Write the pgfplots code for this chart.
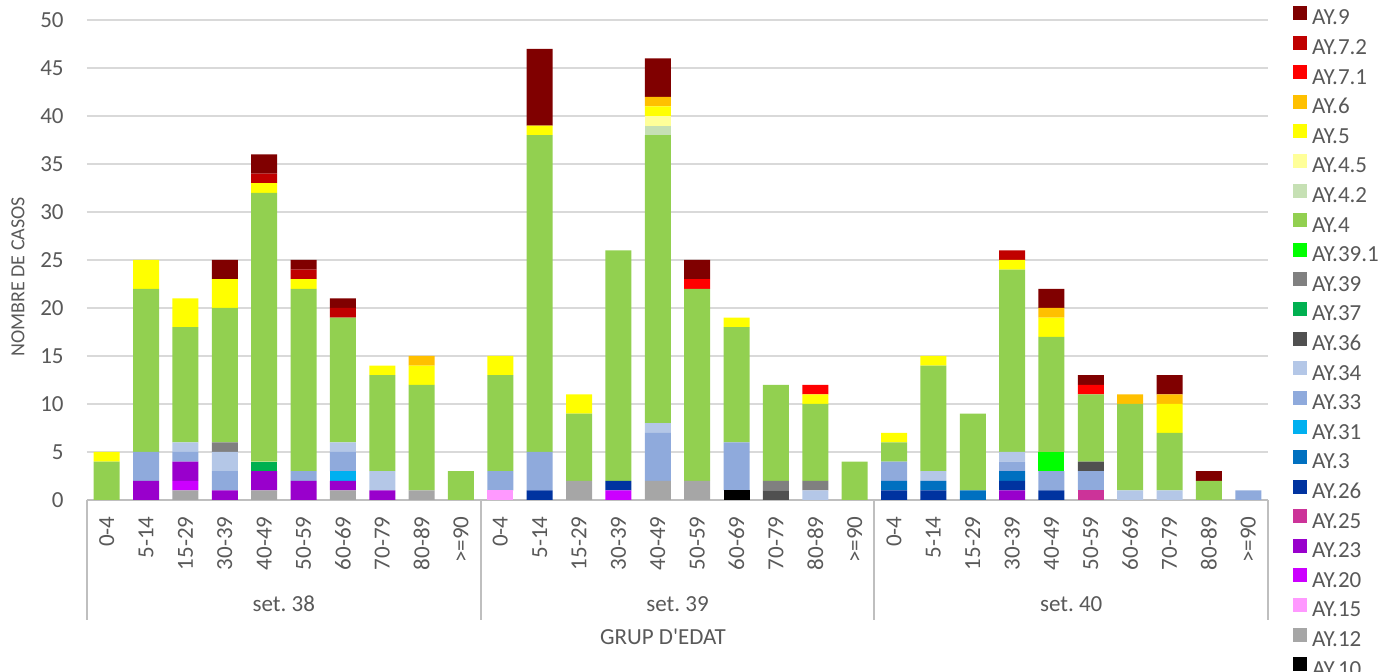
\documentclass[border=0pt]{standalone}
\usepackage{fontspec}
\setmainfont{Carlito}
\usepackage{pgfplots}
\usepackage{pgfplotstable}
\pgfplotsset{compat=1.18}

\definecolor{txt}{HTML}{595959}
\definecolor{axgray}{HTML}{BFBFBF}
\definecolor{gridgray}{HTML}{D9D9D9}
\definecolor{c10}{HTML}{000000}
\definecolor{c12}{HTML}{A6A6A6}
\definecolor{c15}{HTML}{FF99FF}
\definecolor{c20}{HTML}{CC00FF}
\definecolor{c23}{HTML}{9900CC}
\definecolor{c25}{HTML}{CC3399}
\definecolor{c26}{HTML}{0033A0}
\definecolor{c3}{HTML}{0070C0}
\definecolor{c31}{HTML}{00B0F0}
\definecolor{c33}{HTML}{8FAADC}
\definecolor{c34}{HTML}{B4C7E7}
\definecolor{c36}{HTML}{505050}
\definecolor{c37}{HTML}{00B050}
\definecolor{c39}{HTML}{808080}
\definecolor{c391}{HTML}{00FF00}
\definecolor{c4}{HTML}{92D050}
\definecolor{c42}{HTML}{C6E0B4}
\definecolor{c45}{HTML}{FFFF99}
\definecolor{c5}{HTML}{FFFF00}
\definecolor{c6}{HTML}{FFC000}
\definecolor{c71}{HTML}{FF0000}
\definecolor{c72}{HTML}{C00000}
\definecolor{c9}{HTML}{800000}

% cases per lineage; rows 0-9 set. 38, 10-19 set. 39, 20-29 set. 40
\pgfplotstableread{
x  a10 a12 a15 a20 a23 a25 a26 a3 a31 a33 a34 a36 a37 a39 a391 a4 a42 a45 a5 a6 a71 a72 a9
0  0 0 0 0 0 0 0 0 0 0 0 0 0 0 0 4  0 0 1 0 0 0 0
1  0 0 0 0 2 0 0 0 0 3 0 0 0 0 0 17 0 0 3 0 0 0 0
2  0 1 0 1 2 0 0 0 0 1 1 0 0 0 0 12 0 0 3 0 0 0 0
3  0 0 0 0 1 0 0 0 0 2 2 0 0 1 0 14 0 0 3 0 0 0 2
4  0 1 0 0 2 0 0 0 0 0 0 0 1 0 0 28 0 0 1 0 0 1 2
5  0 0 0 0 2 0 0 0 0 1 0 0 0 0 0 19 0 0 1 0 0 1 1
6  0 1 0 0 1 0 0 0 1 2 1 0 0 0 0 13 0 0 0 0 0 1 1
7  0 0 0 0 1 0 0 0 0 0 2 0 0 0 0 10 0 0 1 0 0 0 0
8  0 1 0 0 0 0 0 0 0 0 0 0 0 0 0 11 0 0 2 1 0 0 0
9  0 0 0 0 0 0 0 0 0 0 0 0 0 0 0 3  0 0 0 0 0 0 0
10 0 0 1 0 0 0 0 0 0 2 0 0 0 0 0 10 0 0 2 0 0 0 0
11 0 0 0 0 0 0 1 0 0 4 0 0 0 0 0 33 0 0 1 0 0 0 8
12 0 2 0 0 0 0 0 0 0 0 0 0 0 0 0 7  0 0 2 0 0 0 0
13 0 0 0 1 0 0 1 0 0 0 0 0 0 0 0 24 0 0 0 0 0 0 0
14 0 2 0 0 0 0 0 0 0 5 1 0 0 0 0 30 1 1 1 1 0 0 4
15 0 2 0 0 0 0 0 0 0 0 0 0 0 0 0 20 0 0 0 0 1 0 2
16 1 0 0 0 0 0 0 0 0 5 0 0 0 0 0 12 0 0 1 0 0 0 0
17 0 0 0 0 0 0 0 0 0 0 0 1 0 1 0 10 0 0 0 0 0 0 0
18 0 0 0 0 0 0 0 0 0 0 1 0 0 1 0 8  0 0 1 0 1 0 0
19 0 0 0 0 0 0 0 0 0 0 0 0 0 0 0 4  0 0 0 0 0 0 0
20 0 0 0 0 0 0 1 1 0 2 0 0 0 0 0 2  0 0 1 0 0 0 0
21 0 0 0 0 0 0 1 1 0 0 1 0 0 0 0 11 0 0 1 0 0 0 0
22 0 0 0 0 0 0 0 1 0 0 0 0 0 0 0 8  0 0 0 0 0 0 0
23 0 0 0 0 1 0 1 1 0 1 1 0 0 0 0 19 0 0 1 0 0 1 0
24 0 0 0 0 0 0 1 0 0 2 0 0 0 0 2 12 0 0 2 1 0 0 2
25 0 0 0 0 0 1 0 0 0 2 0 1 0 0 0 7  0 0 0 0 1 0 1
26 0 0 0 0 0 0 0 0 0 0 1 0 0 0 0 9  0 0 0 1 0 0 0
27 0 0 0 0 0 0 0 0 0 0 1 0 0 0 0 6  0 0 3 1 0 0 2
28 0 0 0 0 0 0 0 0 0 0 0 0 0 0 0 2  0 0 0 0 0 0 1
29 0 0 0 0 0 0 0 0 0 1 0 0 0 0 0 0  0 0 0 0 0 0 0
}\cases

\pgfplotsset{
    seg/.style={fill=#1, draw=none,
        legend image code/.code={\fill[#1] (0pt,-0.5pt) rectangle (7pt,6.5pt);}},
}

\begin{document}
\frenchspacing
\begin{tikzpicture}[font=\fontsize{11.5}{13.8}\selectfont, text=txt]
\begin{axis}[
    scale only axis, width=590.5pt, height=240pt,
    ybar stacked, bar width=13pt,
    xmin=-0.5, xmax=29.5, ymin=0, ymax=50,
    ytick={0,5,...,50},
    xtick={0,...,29},
    xticklabels={0-4,5-14,15-29,30-39,40-49,50-59,60-69,70-79,80-89,{>=90},
                 0-4,5-14,15-29,30-39,40-49,50-59,60-69,70-79,80-89,{>=90},
                 0-4,5-14,15-29,30-39,40-49,50-59,60-69,70-79,80-89,{>=90}},
    x tick label style={yshift=-8pt, rotate=90, anchor=east, inner sep=0pt},
    y tick label style={xshift=-11.5pt, inner sep=0pt},
    /pgf/number format/assume math mode=true,
    tick style={draw=none},
    axis x line*=bottom, axis y line*=left,
    x axis line style={draw=axgray, line width=0.9pt, -},
    y axis line style={draw=none},
    ymajorgrids, grid style={gridgray, line width=0.75pt},
    clip=false,
    reverse legend,
    legend cell align=left,
    legend style={draw=none, fill=none, inner sep=0pt, outer sep=0pt,
        anchor=north west, at={(axis description cs:1.0212,1.0292)},
        nodes={inner sep=0pt, text height=8pt, text depth=2pt},
        column sep=2.5pt, row sep=3.3pt},
]
\addplot[seg=c10]  table[x=x, y=a10]  {\cases};
\addplot[seg=c12]  table[x=x, y=a12]  {\cases};
\addplot[seg=c15]  table[x=x, y=a15]  {\cases};
\addplot[seg=c20]  table[x=x, y=a20]  {\cases};
\addplot[seg=c23]  table[x=x, y=a23]  {\cases};
\addplot[seg=c25]  table[x=x, y=a25]  {\cases};
\addplot[seg=c26]  table[x=x, y=a26]  {\cases};
\addplot[seg=c3]   table[x=x, y=a3]   {\cases};
\addplot[seg=c31]  table[x=x, y=a31]  {\cases};
\addplot[seg=c33]  table[x=x, y=a33]  {\cases};
\addplot[seg=c34]  table[x=x, y=a34]  {\cases};
\addplot[seg=c36]  table[x=x, y=a36]  {\cases};
\addplot[seg=c37]  table[x=x, y=a37]  {\cases};
\addplot[seg=c39]  table[x=x, y=a39]  {\cases};
\addplot[seg=c391] table[x=x, y=a391] {\cases};
\addplot[seg=c4]   table[x=x, y=a4]   {\cases};
\addplot[seg=c42]  table[x=x, y=a42]  {\cases};
\addplot[seg=c45]  table[x=x, y=a45]  {\cases};
\addplot[seg=c5]   table[x=x, y=a5]   {\cases};
\addplot[seg=c6]   table[x=x, y=a6]   {\cases};
\addplot[seg=c71]  table[x=x, y=a71]  {\cases};
\addplot[seg=c72]  table[x=x, y=a72]  {\cases};
\addplot[seg=c9]   table[x=x, y=a9]   {\cases};
\legend{AY.10,AY.12,AY.15,AY.20,AY.23,AY.25,AY.26,AY.3,AY.31,AY.33,AY.34,AY.36,
        AY.37,AY.39,AY.39.1,AY.4,AY.4.2,AY.4.5,AY.5,AY.6,AY.7.1,AY.7.2,AY.9}

% week separators and group labels
\draw[axgray, line width=0.9pt] (axis cs:-0.5,0) -- ++(0pt,-60pt);
\draw[axgray, line width=0.9pt] (axis cs:9.5,0) -- ++(0pt,-60pt);
\draw[axgray, line width=0.9pt] (axis cs:19.5,0) -- ++(0pt,-60pt);
\draw[axgray, line width=0.9pt] (axis cs:29.5,0) -- ++(0pt,-60pt);
\node at ([yshift=-52pt]axis cs:4.5,0)  {set. 38};
\node at ([yshift=-52pt]axis cs:14.5,0) {set. 39};
\node at ([yshift=-52pt]axis cs:24.5,0) {set. 40};
\node at ([yshift=-68.5pt]axis cs:14.13,0) {GRUP D\textquotesingle EDAT};
\node[rotate=90, font=\fontsize{10}{12}\selectfont]
    at ([xshift=-34.5pt, yshift=111.5pt]axis cs:-0.5,0) {NOMBRE DE CASOS};
\coordinate (bl) at (rel axis cs:0,0);
\coordinate (tr) at (rel axis cs:1,1);
\end{axis}
\pgfresetboundingbox
\path[use as bounding box] ([xshift=-43.5pt, yshift=-86pt]bl) rectangle ([xshift=66pt, yshift=10pt]tr);
\end{tikzpicture}
\end{document}
